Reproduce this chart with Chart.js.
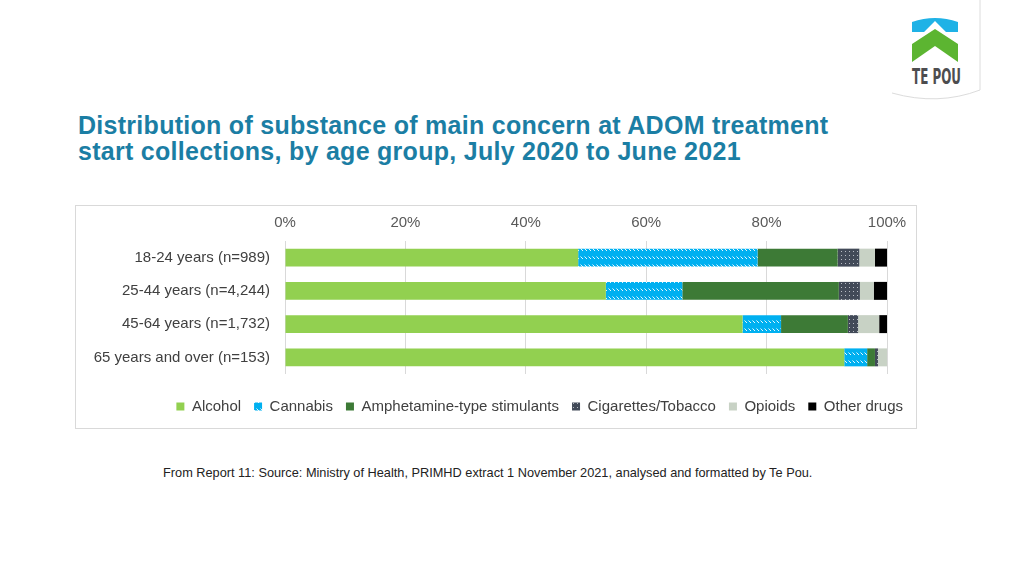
<!DOCTYPE html>
<html>
<head>
<meta charset="utf-8">
<script src="https://cdn.jsdelivr.net/npm/chart.js@4.4.1/dist/chart.umd.min.js"></script>
<style>
    body { margin: 0; width: 1024px; height: 576px; background: #fff; position: relative; overflow: hidden; font-family: "Liberation Sans", Arial, sans-serif; }
    #title { position: absolute; left: 78px; top: 112px; color: #1b7ea4; font-weight: bold; font-size: 25px; line-height: 26px; letter-spacing: 0.28px; }
    #box { position: absolute; left: 75px; top: 205px; width: 840px; height: 222px; border: 1px solid #d9d9d9; }
    #footer { position: absolute; left: 163px; top: 465px; font-size: 12.75px; color: #222; white-space: nowrap; }
    #logo { position: absolute; left: 880px; top: 0; }
</style>
</head>
<body>
<svg id="logo" width="110" height="110" viewBox="0 0 110 110">
    <path d="M100,0 L100,90 Q58,106 12,93" fill="none" stroke="#dcdcdc" stroke-width="1"/>
    <path d="M32,22 Q55,14 78,22 L78,32 L66,32 L55,21 L44,32 L32,32 Z" fill="#1fb2e6"/>
    <path d="M32,44 L55,29 L78,44 L78,62 L55,46 L32,62 Z" fill="#5cb531"/>
    <text x="32" y="83.5" font-family="DejaVu Sans Condensed, Liberation Sans Narrow, sans-serif" font-weight="bold" font-size="21" fill="#4d4d4f" textLength="49" lengthAdjust="spacingAndGlyphs">TE POU</text>
</svg>

<div id="title">Distribution of substance of main concern at ADOM treatment<br>start collections, by age group, July 2020 to June 2021</div>

<div id="box"><canvas id="chart" width="840" height="222"></canvas></div>

<div id="footer">From Report 11: Source: Ministry of Health, PRIMHD extract 1 November 2021, analysed and formatted by Te Pou.</div>

<script>
// Данные (проценты по возрастным группам)
const ageGroups = ['18-24 years (n=989)', '25-44 years (n=4,244)', '45-64 years (n=1,732)', '65 years and over (n=153)'];
const alcohol = [48.7, 53.3, 76.0, 92.9];
const cannabis = [29.8, 12.7, 6.4, 3.8];
const amphetamines = [13.3, 26.0, 11.1, 1.3];
const tobacco = [3.6, 3.5, 1.7, 0.5];
const opioids = [2.6, 2.3, 3.5, 1.5];
const otherDrugs = [2.0, 2.2, 1.3, 0];

// Штриховка для каннабиса
function makeDashPattern() {
    const c = document.createElement('canvas');
    c.width = 4; c.height = 8;
    const g = c.getContext('2d');
    g.fillStyle = '#00b0f0';
    g.fillRect(0, 0, 4, 8);
    g.strokeStyle = 'rgba(255,255,255,0.9)';
    g.lineWidth = 1;
    g.beginPath();
    g.moveTo(0.5, 2.5);
    g.lineTo(3, 5);
    g.stroke();
    return g.createPattern(c, 'repeat');
}

// Точки для табака
function makeDotPattern() {
    const c = document.createElement('canvas');
    c.width = 4; c.height = 4;
    const g = c.getContext('2d');
    g.fillStyle = '#424a58';
    g.fillRect(0, 0, 4, 4);
    g.fillStyle = '#b8bcc4';
    g.fillRect(1, 1, 1, 1);
    return g.createPattern(c, 'repeat');
}

const ds = (label, data, color) => ({
    label: label,
    data: data,
    backgroundColor: color,
    borderWidth: 0,
    xAxisID: 'x',
    yAxisID: 'y',
    barPercentage: 0.9,
    categoryPercentage: 0.6
});

new Chart(document.getElementById('chart'), {
    type: 'bar',
    data: {
        labels: ageGroups,
        datasets: [
            ds('Alcohol', alcohol, '#92d050'),
            ds('Cannabis', cannabis, makeDashPattern()),
            ds('Amphetamine-type stimulants', amphetamines, '#3d7a36'),
            ds('Cigarettes/Tobacco', tobacco, makeDotPattern()),
            ds('Opioids', opioids, '#c8d2c5'),
            ds('Other drugs', otherDrugs, '#000000')
        ]
    },
    options: {
        indexAxis: 'y',
        responsive: false,
        animation: false,
        layout: { padding: { left: 0, right: 0, top: 0, bottom: 4 } },
        font: { family: '"Liberation Sans", Arial, sans-serif' },
        scales: {
            x: {
                stacked: true,
                position: 'top',
                min: 0,
                max: 100,
                ticks: {
                    stepSize: 20,
                    callback: v => v + '%',
                    padding: 9,
                    color: '#595959',
                    font: { size: 15 }
                },
                grid: { color: '#d9d9d9', drawTicks: false },
                border: { display: false },
                afterFit: s => { s.height = 35; }
            },
            y: {
                type: 'category',
                stacked: true,
                grid: { display: false, drawTicks: false },
                border: { display: false },
                ticks: { padding: 15, color: '#404040', font: { size: 15 } },
                afterFit: s => { s.width = 209; }
            },
            // пустые оси — только для отступов
            x2: {
                type: 'linear',
                position: 'bottom',
                grid: { display: false },
                ticks: { display: false },
                border: { display: false },
                afterFit: s => { s.height = 12; }
            },
            y2: {
                type: 'linear',
                position: 'right',
                grid: { display: false },
                ticks: { display: false },
                border: { display: false },
                afterFit: s => { s.width = 29; }
            }
        },
        plugins: {
            legend: {
                position: 'bottom',
                align: 'end',
                labels: {
                    boxWidth: 8,
                    boxHeight: 8,
                    padding: 13,
                    color: '#404040',
                    font: { size: 15 }
                }
            },
            tooltip: { enabled: false }
        }
    }
});
</script>
</body>
</html>
